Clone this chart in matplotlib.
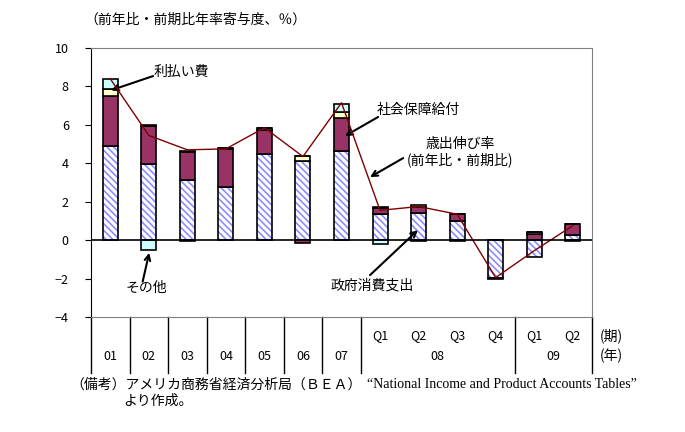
import matplotlib
matplotlib.use('Agg')
from matplotlib import pyplot as plt
import numpy as np

plt.rcParams['font.family'] = ['Noto Sans CJK JP', 'DejaVu Sans']
plt.rcParams['hatch.linewidth'] = 1.2

## Données

cats = ['01', '02', '03', '04', '05', '06', '07', 'Q1', 'Q2', 'Q3', 'Q4', 'Q1', 'Q2']
years = ['01', '02', '03', '04', '05', '06', '07', '08', '09']
gov = [4.9, 3.95, 3.15, 2.75, 4.5, 4.1, 4.65, 1.35, 1.4, 1.0, -1.95, -0.9, 0.25]       # 政府消費支出
social = [2.6, 2.0, 1.45, 2.0, 1.25, -0.15, 1.7, 0.3, 0.35, 0.35, -0.05, 0.3, 0.6]   # 社会保障給付
interest = [0.35, 0.05, 0.05, 0.05, 0.1, 0.3, 0.3, 0.05, 0.08, 0.0, 0.0, 0.1, 0.0]  # 利払い費
other = [0.55, -0.5, -0.05, 0.0, 0.0, 0.0, 0.45, -0.2, -0.05, -0.05, 0.0, 0.0, -0.05]  # その他
total = [8.4, 5.45, 4.7, 4.75, 5.85, 4.35, 7.15, 1.55, 1.75, 1.35, -1.95, -0.55, 0.75]  # 歳出伸び率

## Figure

fig = plt.figure(figsize=(6.85, 4.32), dpi=100)
ax = fig.add_axes([91/685, 1-317/432, 501/685, 269/432])

x = np.arange(len(cats))
w = 0.39
pos = np.zeros(len(cats))
neg = np.zeros(len(cats))
series = [(gov, 'white', '#8C8CFF', '\\\\\\\\\\'),
          (social, '#993366', 'black', None),
          (interest, '#FFFFCC', 'black', None),
          (other, '#CCFFFF', 'black', None)]
for vals, fc, hc, hatch in series:
    v = np.array(vals)
    base = np.where(v >= 0, pos, neg)
    if hatch:
        ax.bar(x, v, w, bottom=base, color=fc, edgecolor=hc, hatch=hatch, lw=0, zorder=2)
        ax.bar(x, v, w, bottom=base, fill=False, edgecolor='black', lw=1.2, zorder=3)
    else:
        ax.bar(x, v, w, bottom=base, color=fc, edgecolor='black', lw=1.2, zorder=3)
    pos = pos + np.where(v >= 0, v, 0)
    neg = neg + np.where(v < 0, v, 0)

ax.plot(x, total, color='#800000', lw=1, zorder=4)
ax.axhline(0, color='black', lw=1.2, zorder=5)

ax.set_xlim(-0.5, 12.5)
ax.set_ylim(-4, 10)
ax.set_yticks(np.arange(-4, 11, 2))
ax.tick_params(axis='y', direction='out', length=4, labelsize=9, pad=12)
ax.set_xticks([])
for s in ['top', 'right', 'bottom']:
    ax.spines[s].set_color('#808080')
ax.spines['left'].set_color('black')

## Tableau des années

tr = ax.get_xaxis_transform()
for b in [-0.5, 0.5, 1.5, 2.5, 3.5, 4.5, 5.5, 6.5, 10.5, 12.5]:
    ax.plot([b, b], [0, -0.208], color='black', lw=1, transform=tr, clip_on=False)
for i in range(7, 13):
    ax.text(x[i], -0.07, cats[i], transform=tr, ha='center', va='center', fontsize=9)
for i in range(7):
    ax.text(x[i], -0.145, years[i], transform=tr, ha='center', va='center', fontsize=9)
ax.text(8.5, -0.145, years[7], transform=tr, ha='center', va='center', fontsize=9)
ax.text(11.5, -0.145, years[8], transform=tr, ha='center', va='center', fontsize=9)
ax.text(12.7, -0.07, '(期)', transform=tr, ha='left', va='center', fontsize=10)
ax.text(12.7, -0.145, '(年)', transform=tr, ha='left', va='center', fontsize=10)

## Annotations

ap = dict(arrowstyle='->', lw=1.5, color='black', shrinkA=0, shrinkB=0)
ax.annotate('', xy=(0.02, 7.8), xytext=(1.11, 8.54), arrowprops=ap)
ax.text(1.13, 8.75, '利払い費', fontsize=10, ha='left', va='center')
ax.annotate('', xy=(1.01, -0.66), xytext=(0.84, -2.16), arrowprops=ap)
ax.text(0.93, -2.5, 'その他', fontsize=10, ha='center', va='center')
ax.annotate('', xy=(6.09, 5.42), xytext=(6.95, 6.41), arrowprops=ap)
ax.text(6.92, 6.77, '社会保障給付', fontsize=10, ha='left', va='center')
ax.annotate('', xy=(6.74, 3.28), xytext=(7.6, 4.27), arrowprops=ap)
ax.text(9.07, 4.57, '歳出伸び率\n(前年比・前期比)', fontsize=10, ha='center', va='center', linespacing=1.1)
ax.annotate('', xy=(7.98, 0.52), xytext=(6.74, -1.82), arrowprops=ap)
ax.text(6.79, -2.38, '政府消費支出', fontsize=10, ha='center', va='center')

## Textes

fig.text(84/685, 1-20/432, '（前年比・前期比年率寄与度、％）', fontsize=10, ha='left', va='center')
fig.text(70/685, 1-385/432, '（備考）アメリカ商務省経済分析局（ＢＥＡ）', fontsize=10, ha='left', va='center')
fig.text(367/685, 1-385/432, '“National Income and Product Accounts Tables”', fontsize=10,
         ha='left', va='center', family='Liberation Serif')
fig.text(123/685, 1-401/432, 'より作成。', fontsize=10, ha='left', va='center')

plt.savefig('out.png', dpi=100)
